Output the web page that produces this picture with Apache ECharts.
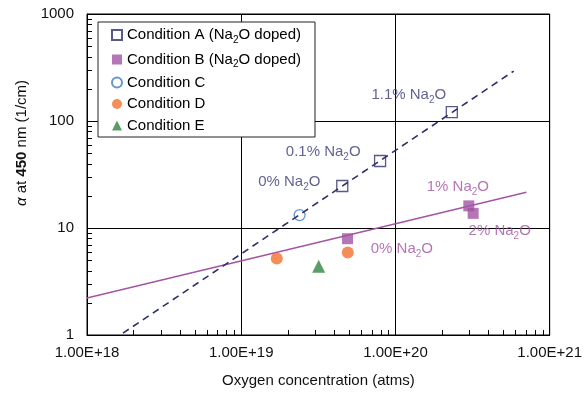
<!DOCTYPE html>
<html>
<head>
<meta charset="utf-8">
<script src="https://cdn.jsdelivr.net/npm/echarts@6/dist/echarts.min.js"></script>
<style>
  html, body { margin: 0; background: #fff; }
  #chart { width: 585px; height: 393px; }
</style>
</head>
<body>
<div id="chart"></div>
<script>
// values (x = atms, y = 1/cm)
const condA = [[4.52e19, 24.7], [7.95e19, 42.3], [2.32e20, 121]];
const condB = [[4.89e19, 7.94], [2.99e20, 16.1], [3.19e20, 13.7]];
const condC = [[2.39e19, 13.2]];
const condD = [[1.70e19, 5.2], [4.91e19, 5.9]];
const condE = [[3.18e19, 4.4]];
const fitA = [[1.71e18, 1.04], [5.85e20, 293]];
const fitB = [[1e18, 2.22], [7.06e20, 21.6]];

const seriesNames = [
  'Condition A (Na2O doped)',
  'Condition B (Na2O doped)',
  'Condition C',
  'Condition D',
  'Condition E'
];

// annotation texts at data positions
const notesA = [[1.22e20, 175, '1.1% Na2O'], [3.40e19, 51.3, '0.1% Na2O'], [2.05e19, 26.9, '0% Na2O']];
const notesB = [[2.54e20, 24.2, '1% Na2O'], [4.74e20, 9.38, '2% Na2O'], [1.10e20, 6.37, '0% Na2O']];

const xMin = 1e18, xMax = 1e21, yMin = 1, yMax = 1000;
const minorMult = [2, 3, 4, 5, 6, 7, 8, 9];

const xMinor = [];
for (let e = 18; e < 21; e++) minorMult.forEach(m => xMinor.push(m * Math.pow(10, e)));
const yMinor = [];
for (let e = 0; e < 3; e++) minorMult.forEach(m => yMinor.push(m * Math.pow(10, e)));

const FONT = "'Liberation Sans', Arial, sans-serif";
const NAVY = '#2f2f6c';
const PURPLE = '#a354a3';

const subStyle = { fontSize: 10, lineHeight: 10, padding: [10, 0, 0, 0], fontFamily: FONT };
const withSub = t => t.replace('Na2O', 'Na{s|2}O');

const chart = echarts.init(document.getElementById('chart'));

const noteSeries = (notes, color) => ({
  type: 'scatter',
  symbolSize: 0,
  silent: true,
  z: 5,
  data: notes.map(n => ({ value: [n[0], n[1]], name: n[2] })),
  label: {
    show: true,
    position: 'inside',
    formatter: p => withSub(p.name),
    color: color,
    fontSize: 15,
    lineHeight: 17,
    fontFamily: FONT,
    rich: { s: Object.assign({}, subStyle, { color: color }) }
  }
});

const yTitle = {
  type: 'text',
  x: 22,
  y: 143,
  rotation: Math.PI / 2,
  style: {
    text: '{i|α} at {b|450} nm (1/cm)',
    fontSize: 15,
    fontFamily: FONT,
    fill: '#111',
    align: 'center',
    verticalAlign: 'middle',
    rich: {
      i: { fontStyle: 'italic', fontSize: 15, fontFamily: FONT },
      b: { fontWeight: 'bold', fontSize: 15, fontFamily: FONT }
    }
  }
};

chart.setOption({
  animation: false,
  grid: { left: 87, right: 34, top: 14, bottom: 57, show: true, borderColor: '#000', borderWidth: 1 },
  xAxis: {
    type: 'log',
    min: xMin,
    max: xMax,
    name: 'Oxygen concentration (atms)',
    nameLocation: 'middle',
    nameGap: 38,
    nameTextStyle: { fontSize: 15, color: '#111', fontFamily: FONT },
    axisLine: { lineStyle: { color: '#000', width: 1 } },
    axisTick: { show: false },
    axisLabel: {
      fontSize: 15, color: '#111', fontFamily: FONT, margin: 10,
      formatter: v => Number(v).toExponential(2).toUpperCase()
    },
    splitLine: { show: true, lineStyle: { color: '#000', width: 1 } }
  },
  yAxis: {
    type: 'log',
    min: yMin,
    max: yMax,
    axisLine: { lineStyle: { color: '#000', width: 1 } },
    axisTick: { show: false },
    axisLabel: {
      fontSize: 15, color: '#111', fontFamily: FONT, margin: 13,
      formatter: v => String(Math.round(v))
    },
    splitLine: { show: true, lineStyle: { color: '#000', width: 1 } }
  },
  legend: {
    orient: 'vertical',
    left: 98,
    top: 22,
    data: seriesNames,
    backgroundColor: '#fff',
    borderColor: '#222',
    borderWidth: 1,
    borderRadius: 0,
    padding: [3, 14, 3, 13],
    itemGap: 4.5,
    itemWidth: 10,
    itemHeight: 10,
    formatter: n => withSub(n),
    textStyle: {
      fontSize: 15, lineHeight: 17, color: '#000', fontFamily: FONT,
      rich: { s: Object.assign({}, subStyle, { color: '#000' }) }
    }
  },
  graphic: [yTitle],
  series: [
    {
      type: 'line', data: fitB, symbol: 'none', silent: true, z: 2,
      lineStyle: { color: PURPLE, width: 1.5 }
    },
    {
      name: seriesNames[0], type: 'scatter', data: condA, symbol: 'rect', symbolSize: 11, z: 3,
      itemStyle: { color: '#fff', borderColor: NAVY, borderWidth: 1.3 }
    },
    {
      name: seriesNames[1], type: 'scatter', data: condB, symbol: 'rect', symbolSize: 11, z: 3,
      itemStyle: { color: PURPLE }
    },
    {
      name: seriesNames[2], type: 'scatter', data: condC, symbol: 'circle', symbolSize: 11, z: 3,
      itemStyle: { color: '#fff', borderColor: '#3f7cc4', borderWidth: 1.3 }
    },
    {
      name: seriesNames[3], type: 'scatter', data: condD, symbol: 'circle', symbolSize: 12, z: 3,
      itemStyle: { color: '#f3702e' }
    },
    {
      name: seriesNames[4], type: 'scatter', data: condE, symbol: 'triangle', symbolSize: 13, z: 3,
      itemStyle: { color: '#2f8542' }
    },
    {
      type: 'line', data: fitA, symbol: 'none', silent: true, z: 4,
      lineStyle: { color: NAVY, width: 1.6, type: [7, 5] }
    },
    noteSeries(notesA, '#3a3a78'),
    noteSeries(notesB, PURPLE)
  ]
});

// inward minor ticks: positions along each axis come from that axis's own log scale,
// the other coordinate is the grid edge
const rect = chart.getModel().getComponent('grid', 0).coordinateSystem.getRect();
const gLeft = Math.round(rect.x), gBottom = Math.round(rect.y + rect.height);
const tickRect = (x, y, w, h) => ({
  type: 'rect',
  silent: true,
  z: 100,
  shape: { x, y, width: w, height: h },
  style: { fill: '#000' }
});
const ticks = [];
xMinor.forEach(v => {
  const px = chart.convertToPixel({ xAxisIndex: 0 }, v);
  if (isFinite(px)) ticks.push(tickRect(Math.round(px), gBottom - 5, 1, 5));
});
yMinor.forEach(v => {
  const py = chart.convertToPixel({ yAxisIndex: 0 }, v);
  if (isFinite(py)) ticks.push(tickRect(gLeft, Math.round(py), 5, 1));
});
chart.setOption({ graphic: [yTitle].concat(ticks) });
</script>
</body>
</html>
